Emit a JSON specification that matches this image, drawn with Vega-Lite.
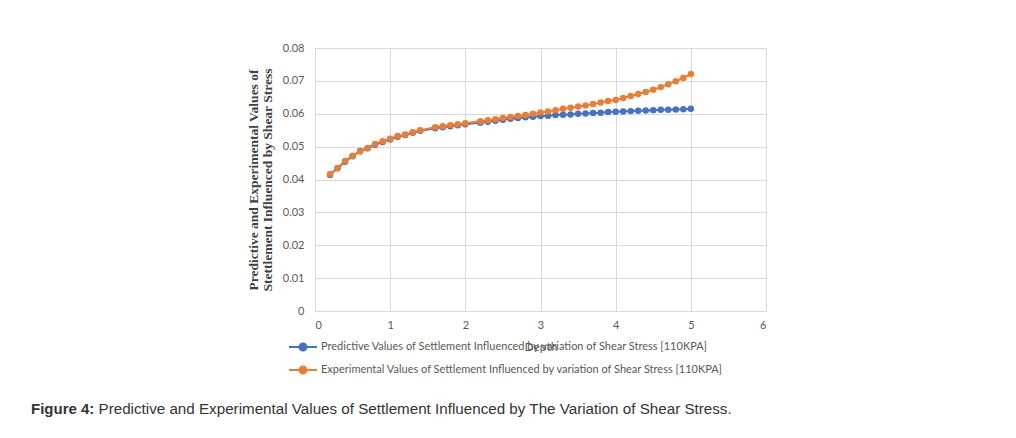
{
  "$schema": "https://vega.github.io/schema/vega-lite/v6.json",
  "autosize": {"type": "none"},
  "width": 451,
  "height": 263,
  "padding": {"left": 315, "top": 48, "right": 250, "bottom": 127},
  "background": "white",
  "title": {
    "text": "Figure 4:",
    "subtitle": "\u200b\u00a0\u00a0\u00a0\u00a0\u00a0\u00a0\u00a0\u00a0\u00a0\u00a0\u00a0\u00a0\u00a0\u00a0\u00a0\u00a0Predictive and Experimental Values of Settlement Influenced by The Variation of Shear Stress.",
    "orient": "bottom",
    "anchor": "start",
    "frame": "group",
    "dx": -284,
    "offset": 24,
    "font": "Liberation Sans",
    "fontSize": 15,
    "fontWeight": "bold",
    "color": "#333333",
    "subtitleFont": "Liberation Sans",
    "subtitleFontSize": 15.2,
    "subtitleFontWeight": "normal",
    "subtitleColor": "#333333",
    "subtitlePadding": -15
  },
  "data": {
    "values": [
      {"depth": 0.2, "series": "P", "value": 0.0414},
      {"depth": 0.3, "series": "P", "value": 0.0434},
      {"depth": 0.4, "series": "P", "value": 0.0454},
      {"depth": 0.5, "series": "P", "value": 0.0471},
      {"depth": 0.6, "series": "P", "value": 0.0487},
      {"depth": 0.7, "series": "P", "value": 0.0495},
      {"depth": 0.8, "series": "P", "value": 0.0506},
      {"depth": 0.9, "series": "P", "value": 0.0514},
      {"depth": 1.0, "series": "P", "value": 0.0522},
      {"depth": 1.1, "series": "P", "value": 0.0530},
      {"depth": 1.2, "series": "P", "value": 0.0535},
      {"depth": 1.3, "series": "P", "value": 0.0542},
      {"depth": 1.4, "series": "P", "value": 0.0548},
      {"depth": 1.6, "series": "P", "value": 0.0556},
      {"depth": 1.7, "series": "P", "value": 0.0559},
      {"depth": 1.8, "series": "P", "value": 0.0562},
      {"depth": 1.9, "series": "P", "value": 0.0565},
      {"depth": 2.0, "series": "P", "value": 0.0568},
      {"depth": 2.2, "series": "P", "value": 0.0573},
      {"depth": 2.3, "series": "P", "value": 0.0576},
      {"depth": 2.4, "series": "P", "value": 0.0579},
      {"depth": 2.5, "series": "P", "value": 0.0582},
      {"depth": 2.6, "series": "P", "value": 0.0585},
      {"depth": 2.7, "series": "P", "value": 0.0587},
      {"depth": 2.8, "series": "P", "value": 0.0589},
      {"depth": 2.9, "series": "P", "value": 0.0591},
      {"depth": 3.0, "series": "P", "value": 0.0593},
      {"depth": 3.1, "series": "P", "value": 0.0594},
      {"depth": 3.2, "series": "P", "value": 0.0596},
      {"depth": 3.3, "series": "P", "value": 0.0597},
      {"depth": 3.4, "series": "P", "value": 0.0598},
      {"depth": 3.5, "series": "P", "value": 0.0600},
      {"depth": 3.6, "series": "P", "value": 0.0601},
      {"depth": 3.7, "series": "P", "value": 0.0602},
      {"depth": 3.8, "series": "P", "value": 0.0603},
      {"depth": 3.9, "series": "P", "value": 0.0605},
      {"depth": 4.0, "series": "P", "value": 0.0606},
      {"depth": 4.1, "series": "P", "value": 0.0607},
      {"depth": 4.2, "series": "P", "value": 0.0608},
      {"depth": 4.3, "series": "P", "value": 0.0609},
      {"depth": 4.4, "series": "P", "value": 0.0610},
      {"depth": 4.5, "series": "P", "value": 0.0611},
      {"depth": 4.6, "series": "P", "value": 0.0612},
      {"depth": 4.7, "series": "P", "value": 0.0612},
      {"depth": 4.8, "series": "P", "value": 0.0613},
      {"depth": 4.9, "series": "P", "value": 0.0614},
      {"depth": 5.0, "series": "P", "value": 0.0615},
      {"depth": 0.2, "series": "E", "value": 0.0416},
      {"depth": 0.3, "series": "E", "value": 0.0435},
      {"depth": 0.4, "series": "E", "value": 0.0456},
      {"depth": 0.5, "series": "E", "value": 0.0472},
      {"depth": 0.6, "series": "E", "value": 0.0485},
      {"depth": 0.7, "series": "E", "value": 0.0496},
      {"depth": 0.8, "series": "E", "value": 0.0508},
      {"depth": 0.9, "series": "E", "value": 0.0516},
      {"depth": 1.0, "series": "E", "value": 0.0524},
      {"depth": 1.1, "series": "E", "value": 0.0532},
      {"depth": 1.2, "series": "E", "value": 0.0537},
      {"depth": 1.3, "series": "E", "value": 0.0544},
      {"depth": 1.4, "series": "E", "value": 0.0550},
      {"depth": 1.6, "series": "E", "value": 0.0559},
      {"depth": 1.7, "series": "E", "value": 0.0562},
      {"depth": 1.8, "series": "E", "value": 0.0565},
      {"depth": 1.9, "series": "E", "value": 0.0568},
      {"depth": 2.0, "series": "E", "value": 0.0571},
      {"depth": 2.2, "series": "E", "value": 0.0577},
      {"depth": 2.3, "series": "E", "value": 0.0580},
      {"depth": 2.4, "series": "E", "value": 0.0583},
      {"depth": 2.5, "series": "E", "value": 0.0587},
      {"depth": 2.6, "series": "E", "value": 0.0590},
      {"depth": 2.7, "series": "E", "value": 0.0593},
      {"depth": 2.8, "series": "E", "value": 0.0596},
      {"depth": 2.9, "series": "E", "value": 0.0600},
      {"depth": 3.0, "series": "E", "value": 0.0604},
      {"depth": 3.1, "series": "E", "value": 0.0607},
      {"depth": 3.2, "series": "E", "value": 0.0611},
      {"depth": 3.3, "series": "E", "value": 0.0615},
      {"depth": 3.4, "series": "E", "value": 0.0618},
      {"depth": 3.5, "series": "E", "value": 0.0622},
      {"depth": 3.6, "series": "E", "value": 0.0625},
      {"depth": 3.7, "series": "E", "value": 0.0630},
      {"depth": 3.8, "series": "E", "value": 0.0634},
      {"depth": 3.9, "series": "E", "value": 0.0639},
      {"depth": 4.0, "series": "E", "value": 0.0642},
      {"depth": 4.1, "series": "E", "value": 0.0648},
      {"depth": 4.2, "series": "E", "value": 0.0654},
      {"depth": 4.3, "series": "E", "value": 0.0660},
      {"depth": 4.4, "series": "E", "value": 0.0666},
      {"depth": 4.5, "series": "E", "value": 0.0673},
      {"depth": 4.6, "series": "E", "value": 0.0681},
      {"depth": 4.7, "series": "E", "value": 0.0690},
      {"depth": 4.8, "series": "E", "value": 0.0699},
      {"depth": 4.9, "series": "E", "value": 0.0709},
      {"depth": 5.0, "series": "E", "value": 0.0721}
    ]
  },
  "transform": [
    {"lookup": "series", "from": {"data": {"values": [
      {"k": "P", "label": "Predictive Values of Settlement Influenced by variation of Shear Stress [110KPA]"},
      {"k": "E", "label": "Experimental  Values of Settlement Influenced by variation of Shear Stress [110KPA]"}
    ]}, "key": "k", "fields": ["label"]}}
  ],
  "encoding": {
    "x": {
      "field": "depth", "type": "quantitative",
      "scale": {"domain": [0, 6], "nice": false},
      "axis": {"values": [0, 1, 2, 3, 4, 5, 6], "title": "Depth", "titlePadding": 11, "labelPadding": 8}
    },
    "y": {
      "field": "value", "type": "quantitative",
      "scale": {"domain": [0, 0.08], "nice": false},
      "axis": {
        "values": [0, 0.01, 0.02, 0.03, 0.04, 0.05, 0.06, 0.07, 0.08],
        "format": ".2~f",
        "domain": false,
        "labelPadding": 11,
        "title": ["Predictive and Experimental Values of", "Stettlement Influenced by Shear Stress"],
        "titleFont": "Liberation Serif",
        "titleFontWeight": "bold",
        "titleFontSize": 13.5,
        "titleColor": "#404040",
        "titleLineHeight": 14,
        "titlePadding": 8
      }
    },
    "color": {
      "field": "label", "type": "nominal",
      "scale": {
        "domain": ["Predictive Values of Settlement Influenced by variation of Shear Stress [110KPA]", "Experimental  Values of Settlement Influenced by variation of Shear Stress [110KPA]"],
        "range": ["#4472C4", "#ED7D31"]
      },
      "legend": {
        "title": null,
        "orient": "none",
        "direction": "vertical",
        "legendX": -27,
        "legendY": 284,
        "symbolType": "M-1,0H1M-0.25,0A0.25,0.25,0,1,1,0.25,0A0.25,0.25,0,1,1,-0.25,0Z",
        "symbolSize": 784,
        "symbolStrokeWidth": 2,
        "labelFont": "Lato",
        "labelFontSize": 11,
        "labelColor": "#595959",
        "labelOffset": 3,
        "rowPadding": -5,
        "labelLimit": 600,
        "encode": {"symbols": {"update": {"fill": {"scale": "color", "field": "value"}, "stroke": {"scale": "color", "field": "value"}}}}
      }
    }
  },
  "layer": [
    {"mark": {"type": "line", "strokeWidth": 2}},
    {"mark": {"type": "point", "filled": true, "size": 42, "opacity": 1}}
  ],
  "config": {
    "view": {"stroke": null},
    "axis": {
      "labelFont": "Lato",
      "labelFontSize": 11,
      "labelColor": "#595959",
      "titleFont": "Lato",
      "titleFontSize": 12,
      "titleFontWeight": "normal",
      "titleColor": "#595959",
      "gridColor": "#d9d9d9",
      "gridWidth": 1,
      "domainColor": "#d9d9d9",
      "ticks": false
    }
  }
}
